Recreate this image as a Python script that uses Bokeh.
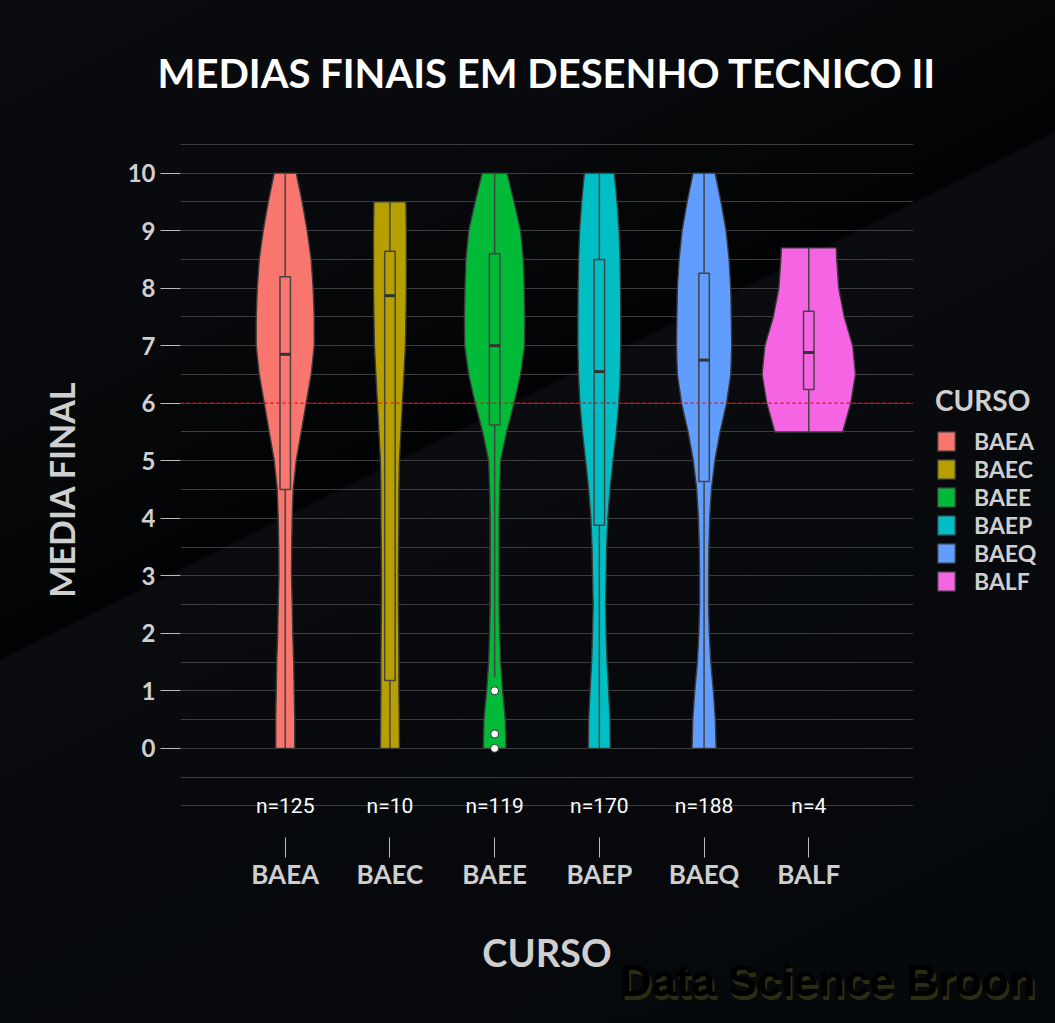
from bokeh.plotting import figure
from bokeh.models import FixedTicker, Span, Legend, LegendItem, Title
from bokeh.embed import file_html
from bokeh.resources import INLINE
from bokeh.core.properties import value

# ---------------- data ----------------
courses = ["BAEA", "BAEC", "BAEE", "BAEP", "BAEQ", "BALF"]
colors = ["#F8766D", "#B79F00", "#00BA38", "#00BFC4", "#619CFF", "#F564E3"]
n_counts = [125, 10, 119, 170, 188, 4]

# violin outlines: grade levels and half-widths (x units)
lv_0_10 = [0, 0.5, 1, 1.5, 2, 2.5, 3, 3.5, 4, 4.5, 5, 5.5, 6, 6.5, 7, 7.5, 8, 8.5, 9, 9.5, 10]
lv_0_95 = [0, 0.5, 1, 1.5, 2, 2.5, 3, 3.5, 4, 4.5, 5, 5.5, 6, 6.5, 7, 7.5, 8, 8.5, 9, 9.5]
lv_balf = [5.5, 6, 6.5, 7, 7.5, 8, 8.5, 8.7]

w_baea = [0.091, 0.091, 0.086, 0.081, 0.072, 0.067, 0.060, 0.062, 0.067, 0.076, 0.105,
          0.153, 0.200, 0.248, 0.277, 0.277, 0.267, 0.248, 0.210, 0.162, 0.105]
w_baec = [0.091, 0.089, 0.086, 0.086, 0.084, 0.081, 0.081, 0.083, 0.086, 0.086, 0.091,
          0.105, 0.119, 0.134, 0.148, 0.153, 0.157, 0.157, 0.157, 0.153]
w_baee = [0.108, 0.102, 0.076, 0.057, 0.048, 0.043, 0.043, 0.043, 0.043, 0.048, 0.057,
          0.115, 0.186, 0.248, 0.286, 0.289, 0.283, 0.274, 0.248, 0.186, 0.119]
w_baep = [0.105, 0.102, 0.089, 0.074, 0.065, 0.059, 0.065, 0.070, 0.081, 0.102, 0.131,
          0.162, 0.186, 0.200, 0.205, 0.205, 0.203, 0.198, 0.189, 0.169, 0.143]
w_baeq = [0.115, 0.108, 0.089, 0.064, 0.050, 0.043, 0.043, 0.046, 0.054, 0.070, 0.103,
          0.153, 0.215, 0.255, 0.264, 0.260, 0.255, 0.239, 0.210, 0.162, 0.105]
w_balf = [0.324, 0.401, 0.446, 0.420, 0.339, 0.286, 0.267, 0.262]

violin_levels = [lv_0_10, lv_0_95, lv_0_10, lv_0_10, lv_0_10, lv_balf]
violin_widths = [w_baea, w_baec, w_baee, w_baep, w_baeq, w_balf]

# box plot statistics
q1 = [4.50, 1.18, 5.62, 3.88, 4.64, 6.24]
median = [6.85, 7.87, 7.00, 6.55, 6.75, 6.88]
q3 = [8.20, 8.64, 8.60, 8.50, 8.26, 7.60]
whisker_lo = [0.0, 0.0, 1.24, 0.0, 0.0, 5.5]
whisker_hi = [10.0, 9.5, 10.0, 10.0, 10.0, 8.7]
outlier_course = ["BAEE", "BAEE", "BAEE"]
outlier_values = [1.0, 0.25, 0.0]

y_ticks = [0, 1, 2, 3, 4, 5, 6, 7, 8, 9, 10]
grid_values = [-1, -0.5, 0, 0.5, 1, 1.5, 2, 2.5, 3, 3.5, 4, 4.5, 5, 5.5, 6, 6.5, 7, 7.5,
               8, 8.5, 9, 9.5, 10, 10.5]
reference_grade = 6

# ---------------- figure ----------------
TXT = "#cfcfcf"
FONT = "Lato"

BG_CSS = ("linear-gradient(153.43deg, #0a0b0f 0%, #090a0e 22%, #040506 36%, "
          "#010203 42.4%, #0a0c10 42.7%, #07090c 60%, #05080b 100%) "
          "0 0 / 1055px 1023px no-repeat, #05080b")

p = figure(frame_width=733, frame_height=696, x_range=(0, 7), y_range=(-1.55, 10.55),
           output_backend="svg", toolbar_location=None,
           min_border_left=180, min_border_right=142,
           min_border_top=141, min_border_bottom=186,
           background_fill_color=None, border_fill_color=None, outline_line_color=None,
           styles={"background": BG_CSS})

# grid
p.xgrid.grid_line_color = None
p.ygrid.ticker = FixedTicker(ticks=grid_values)
p.ygrid.grid_line_color = "#3b3d40"
p.ygrid.grid_line_width = 1

cx = {c: i + 1 for i, c in enumerate(courses)}

violin_renderers = []
for i, c in enumerate(courses):
    lv = violin_levels[i]
    w = violin_widths[i]
    x = cx[c]
    xs = [x - wi for wi in w] + [x + wi for wi in reversed(w)]
    ys = list(lv) + list(reversed(lv))
    r = p.patch(xs, ys, fill_color=colors[i], line_color="#3a3a3a", line_width=1.4)
    violin_renderers.append(r)

# reference line
p.add_layout(Span(location=reference_grade, dimension="width", line_color="#e01010",
                  line_width=1.3, line_dash="3 3", level="overlay"))

# boxplots
xc = [cx[c] for c in courses]
bw = 0.05
p.segment(x0=xc, y0=whisker_lo, x1=xc, y1=q1, line_color="#444444", line_width=1.5)
p.segment(x0=xc, y0=q3, x1=xc, y1=whisker_hi, line_color="#444444", line_width=1.5)
p.quad(left=[x - bw for x in xc], right=[x + bw for x in xc], bottom=q1, top=q3,
       fill_color=colors, line_color="#444444", line_width=1.5)
p.segment(x0=[x - bw for x in xc], y0=median, x1=[x + bw for x in xc], y1=median,
          line_color="#333333", line_width=3)
p.scatter(x=[cx[c] for c in outlier_course], y=outlier_values, size=8,
          fill_color="white", line_color="#333333", line_width=1)

# n= labels
p.text(x=xc, y=[-1] * len(xc), text=[f"n={n}" for n in n_counts],
       text_color="white", text_font=value("Roboto"), text_font_size="21px",
       text_align="center", text_baseline="middle")

# axes
p.yaxis.ticker = FixedTicker(ticks=y_ticks)
p.yaxis.axis_line_color = None
p.yaxis.major_tick_line_color = "#bbbbbb"
p.yaxis.major_tick_out = 20
p.yaxis.major_tick_in = 0
p.yaxis.minor_tick_line_color = None
p.yaxis.major_label_text_font = FONT
p.yaxis.major_label_text_font_style = "bold"
p.yaxis.major_label_text_font_size = "24px"
p.yaxis.major_label_text_color = TXT
p.yaxis.major_label_standoff = 5
p.yaxis.axis_label = "MEDIA FINAL"
p.yaxis.axis_label_text_font = FONT
p.yaxis.axis_label_text_font_style = "bold"
p.yaxis.axis_label_text_font_size = "34px"
p.yaxis.axis_label_text_color = TXT
p.yaxis.axis_label_standoff = 43

p.xaxis.ticker = FixedTicker(ticks=xc)
p.xaxis.major_label_overrides = {cx[c]: c for c in courses}
p.xaxis.axis_line_color = None
p.xaxis.major_tick_line_color = "#bbbbbb"
p.xaxis.major_tick_out = 20
p.xaxis.major_tick_in = 0
p.xaxis.minor_tick_line_color = None
p.xaxis.major_label_text_font = FONT
p.xaxis.major_label_text_font_style = "bold"
p.xaxis.major_label_text_font_size = "26px"
p.xaxis.major_label_text_color = TXT
p.xaxis.major_label_standoff = 0
p.xaxis.axis_label = "CURSO"
p.xaxis.axis_label_text_font = FONT
p.xaxis.axis_label_text_font_style = "bold"
p.xaxis.axis_label_text_font_size = "38px"
p.xaxis.axis_label_text_color = TXT
p.xaxis.axis_label_standoff = 36

# watermark (below the axis, pulled up beside the axis label): shadow, then text
wm_text = "Data Science Broon"
p.add_layout(Title(text=wm_text, align="right", offset=-124, standoff=-62,
                   text_font="Liberation Sans", text_font_style="bold",
                   text_font_size="44px", text_color="#2c2c12"), "below")
p.add_layout(Title(text=wm_text, align="right", offset=-122, standoff=-54,
                   text_font="Liberation Sans", text_font_style="bold",
                   text_font_size="44px", text_color="#000000"), "below")

# legend
items = [LegendItem(label=c, renderers=[violin_renderers[i]]) for i, c in enumerate(courses)]
legend = Legend(items=items, title="CURSO", location="center_left",
                glyph_width=22, glyph_height=24, spacing=0, label_standoff=17,
                label_text_font=FONT, label_text_font_style="bold",
                label_text_font_size="23px", label_text_color=TXT,
                label_height=24,
                title_text_font=FONT, title_text_font_style="bold",
                title_text_font_size="28px", title_text_color=TXT, title_standoff=10,
                background_fill_alpha=0, border_line_color=None,
                margin=22, padding=0)
p.add_layout(legend, "right")

# title
p.title = Title(text="MEDIAS FINAIS EM DESENHO TECNICO II", align="center",
                text_font=FONT, text_font_style="bold", text_font_size="40px",
                text_color="white", standoff=90)

open("out.html", "w").write(file_html(p, INLINE))
